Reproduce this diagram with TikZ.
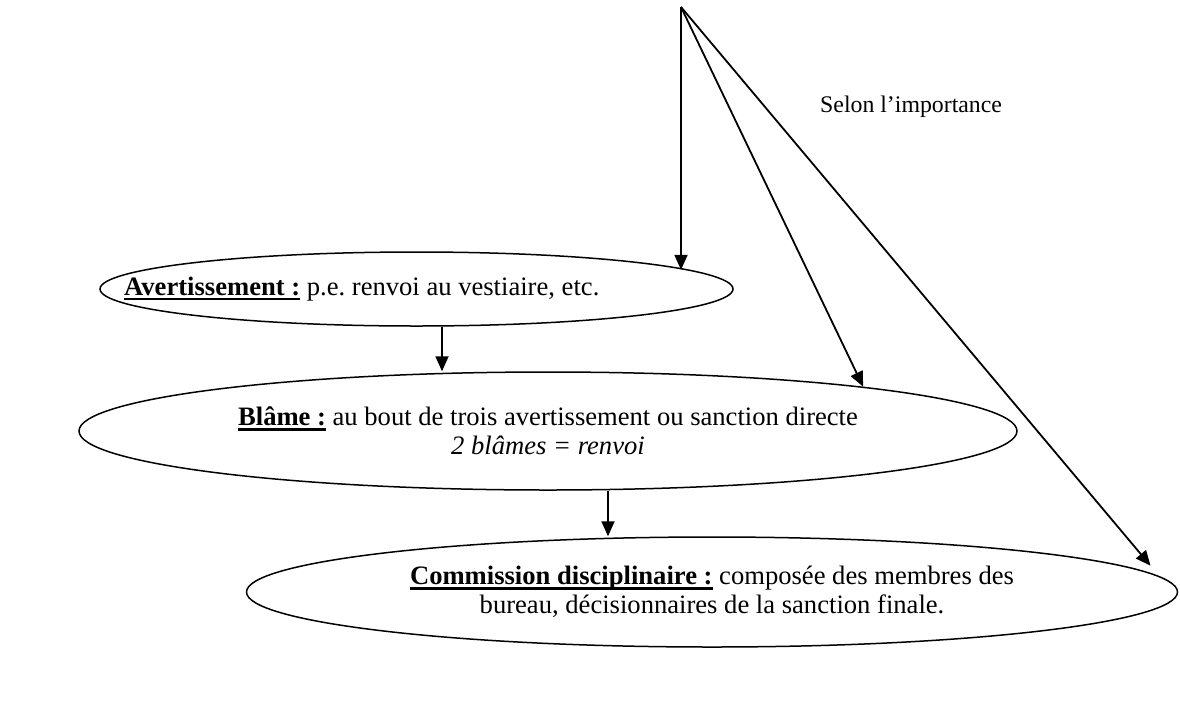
\documentclass[tikz,border=0pt]{standalone}
\usepackage{fontspec}
\setmainfont{Liberation Serif}
\usetikzlibrary{arrows.meta,shapes.geometric}
\newcommand{\souligne}[1]{\setbox0=\hbox{#1}\rlap{\vrule width\wd0 height -2.5pt depth 5pt}\box0\relax}
\frenchspacing

\begin{document}
\begin{tikzpicture}[
            x=1pt, y=-1pt,
            bulle/.style={ellipse, draw=black, line width=1.5pt, inner sep=0pt,
                          align=center, font=\fontsize{26.6}{29}\selectfont},
            txt/.style={inner sep=0pt, font=\fontsize{26.6}{29}\selectfont},
            arrow/.style={-{Triangle[length=15pt,width=13pt]}, line width=1.8pt}
        ]
            \useasboundingbox (0,0) rectangle (1180,702);
            \coordinate (apex) at (681,7);

            \node[bulle, minimum width=633pt, minimum height=74pt] (avert) at (416.5,289) {};
            \node[txt, anchor=base west] (avertlbl) at (124,295)
                {\souligne{\textbf{Avertissement :}} p.e. renvoi au vestiaire, etc.};
            \node[bulle, minimum width=938pt, minimum height=118pt] (blame) at (548,431)
                {\souligne{\textbf{Blâme :}} au bout de trois avertissement ou sanction directe\\
                 \textit{2 blâmes = renvoi}};
            \node[bulle, minimum width=931pt, minimum height=110pt] (commission) at (712,592)
                {\souligne{\textbf{Commission disciplinaire :}} composée des membres des\\
                 bureau, décisionnaires de la sanction finale.};
            \node[inner sep=0pt, anchor=base west, font=\fontsize{23.8}{27}\selectfont]
                (selon) at (820,112) {Selon l’importance};

            \draw[arrow] (apex) -- (apex |- avert.4.39);
            \draw[arrow] (apex) -- (blame.8.84);
            \draw[arrow, shorten >=14pt] (apex) -- (commission.2.55);
            \draw[arrow] ([xshift=25.5pt]avert.south) -- ([xshift=-106pt]blame.north);
            \draw[arrow] ([xshift=60pt]blame.south) -- ([xshift=-104pt]commission.north);
        \end{tikzpicture}
\end{document}
